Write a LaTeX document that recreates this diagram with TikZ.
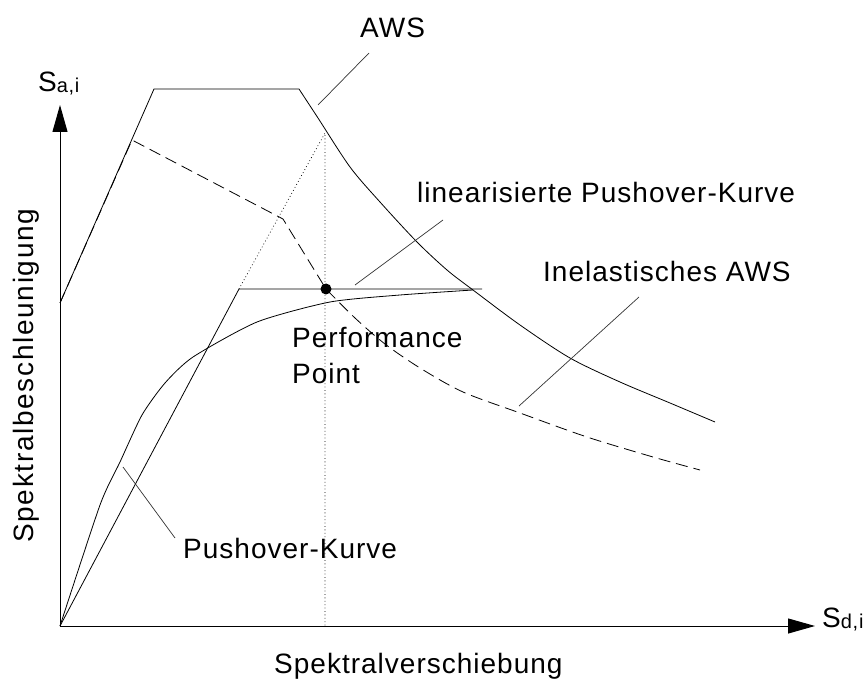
\documentclass[tikz,border=0pt]{standalone}
\usepackage{fontspec}
\setmainfont{Liberation Sans}[LetterSpace=3.6]
\usetikzlibrary{arrows.meta}
\begin{document}
\begin{tikzpicture}[x=1pt, y=-1pt, >={Triangle[length=27pt,width=15pt]},
  lbl/.style={anchor=base west, inner sep=0pt, font=\fontsize{28}{36}\selectfont},
  axis/.style={line width=1pt, ->},
  curve/.style={line width=0.8pt},
  leader/.style={line width=0.7pt, black!80},
  dotline/.style={line width=0.7pt, dash pattern=on 0.8pt off 2.6pt}]
\useasboundingbox (0,0) rectangle (868,679);
% axes
\coordinate (O) at (60,626);
\coordinate (xend) at (815,626);
\coordinate (yend) at (60,105);
\draw[axis] (O) -- (xend);
\draw[axis] (O) -- (yend);
\node[lbl] (sa) at (38,92) {S\raisebox{-1pt}{\fontsize{20}{22}\selectfont a,i}};
\node[lbl] (sd) at (822,627) {S\raisebox{-1pt}{\fontsize{20}{22}\selectfont d,i}};
\node[lbl] (xlab) at (274,673) {Spektralverschiebung};
\node[lbl, rotate=90, font=\fontsize{28}{36}\addfontfeature{LetterSpace=6}\selectfont] (ylab) at (33,543) {Spektralbeschleunigung};
% elastic spectrum (AWS)
\draw[curve] (60,303) -- (154,89) -- plot[smooth, tension=0.5] coordinates {(299,89) (318,118) (350,167) (380,202) (417,242) (447,270) (473,290) (520,325) (570,358) (620,382) (670,403) (715,422)};
% inelastic spectrum
\draw[curve, dash pattern=on 12pt off 6pt] (60,303) -- (132,140) -- (283,219) -- plot[smooth, tension=0.5] coordinates {(326,289) (355,318) (385,344) (420,368) (463,392) (520,413) (587,437) (653,457) (700,470)};
% pushover curve and its bilinear form
\draw[curve] plot[smooth, tension=0.4] coordinates {(60,626) (100,505) (120,462) (142,415) (165,383) (193,357) (257,322) (330,302) (400,295) (473,290)};
\coordinate (knee) at (239,289);
\coordinate (linend) at (482,289);
\draw[curve] (O) -- (knee) -- (linend);
% performance point
\coordinate (top) at (325,133);
\coordinate (foot) at (325,626);
\draw[dotline] (knee) -- (top) -- (foot);
\node[circle, fill, inner sep=0pt, minimum size=11pt] (pp) at (326,289) {};
% labels
\node[lbl] (aws) at (360,38) {AWS};
\node[lbl] (lin) at (417,203) {linearisierte Pushover-Kurve};
\node[lbl] (inel) at (543,282) {Inelastisches AWS};
\node[lbl, align=left] (perf) at (292,383) {Performance\\Point};
\node[lbl] (push) at (183,558) {Pushover-Kurve};
% leaders
\coordinate (aws-p) at (318,105);
\coordinate (lin-p) at (355,285);
\coordinate (inel-p) at (519,406);
\coordinate (push-p) at (123,467);
\draw[leader] (369,53) -- (aws-p);
\draw[leader] (443,220) -- (lin-p);
\draw[leader] (639,297) -- (inel-p);
\draw[leader] (175,538) -- (push-p);
\end{tikzpicture}
\end{document}
